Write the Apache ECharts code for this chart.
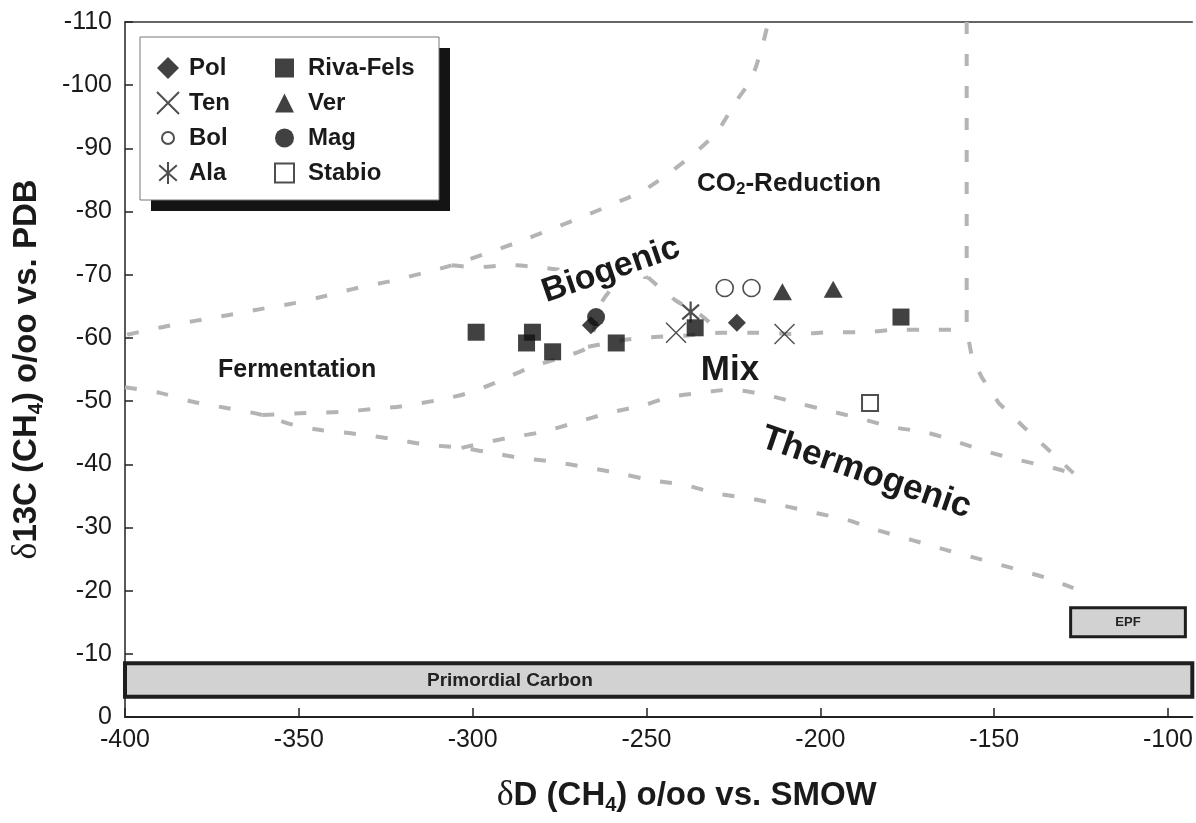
<!DOCTYPE html>
<html><head><meta charset="utf-8">
<script src="https://cdn.jsdelivr.net/npm/echarts@6/dist/echarts.min.js"></script>
<style>html,body{margin:0;padding:0;background:#fff}#c{width:1196px;height:823px}</style>
</head><body><div id="c"></div>
<script>
// ---- axis ranges / ticks ----
const xRange = [-400, -93];
const xStep = 50;
const yRange = [-110, 0];
const yStep = 10;

// ---- series names ----
const seriesNames = ['Pol', 'Ten', 'Bol', 'Ala', 'Riva-Fels', 'Ver', 'Mag', 'Stabio'];
const legendCol1 = ['Pol', 'Ten', 'Bol', 'Ala'];
const legendCol2 = ['Riva-Fels', 'Ver', 'Mag', 'Stabio'];

// ---- data points [dD, d13C] ----
const polData = [[-224, -62.4], [-266, -62.0]];
const tenData = [[-241.5, -60.8], [-210.3, -60.6]];
const bolData = [[-227.5, -67.9], [-219.8, -67.9]];
const alaData = [[-237.3, -64.1]];
const rivaData = [[-299, -60.9], [-284.5, -59.2], [-282.8, -60.9], [-277, -57.8], [-258.7, -59.2], [-236, -61.6], [-176.8, -63.3]];
const verData = [[-210.9, -67.3], [-196.3, -67.7]];
const magData = [[-264.5, -63.3]];
const stabioData = [[-185.7, -49.7]];

// ---- field boundaries (dashed) ----
const boundA = [[-399.4,-60.5],[-389.4,-61.7],[-379.9,-62.7],[-370.5,-63.6],[-360.7,-64.6],[-351.3,-65.5],[-342.7,-66.6],[-333.2,-67.9],[-323.5,-69.0],[-314.0,-70.3],[-306.0,-71.5],[-296.0,-73.4],[-286.8,-75.2],[-277.9,-77.1],[-269.1,-79.0],[-259.6,-81.2],[-251,-83.3],[-243.5,-86.1],[-235.8,-89.4],[-229.5,-92.8],[-224.4,-97.3],[-219.8,-101.1],[-216.6,-106.4],[-215,-110]];
const boundH = [[-306.0,-71.5],[-299.1,-71.2],[-289.1,-71.5],[-279.7,-71.1],[-269.6,-70.4],[-258.2,-70.0],[-249.6,-69.6]];
const boundG = [[-249.6,-69.6],[-241.8,-66.0],[-234.4,-63.6],[-228.7,-60.8]];
const boundB = [[-400,-52.2],[-390.0,-51.3],[-380.5,-49.9],[-370.8,-48.9],[-360.5,-47.8],[-351.3,-46.2],[-343.3,-45.4],[-333.5,-44.8],[-323.2,-44.0],[-313.2,-43.1],[-303.2,-42.6],[-295.4,-41.9],[-286.2,-41.0],[-276.8,-40.4],[-266.2,-39.4],[-257.3,-38.5],[-248.7,-37.5],[-239.0,-36.7],[-229.0,-35.3],[-219.5,-34.5],[-210.3,-33.4],[-201.4,-32.3],[-192.3,-31.2],[-183.7,-29.6],[-173.6,-28.0],[-163.6,-26.4],[-153.6,-24.9],[-145.0,-23.6],[-135.0,-22.0],[-127.2,-20.4]];
const boundC = [[-360.5,-47.8],[-347.9,-48.1],[-337.8,-48.3],[-327.8,-48.8],[-320.3,-49.2],[-309.7,-50.2],[-301.1,-51.3],[-293.1,-53.0],[-283.1,-55.4],[-273.9,-57.0],[-266.8,-58.6],[-264.8,-62.0],[-263.0,-65.5],[-259.6,-68.1],[-256.7,-70.0]];
const boundF = [[-266.8,-58.6],[-256.2,-59.7],[-249.0,-60.1],[-238.1,-60.4],[-228.7,-60.8],[-218.1,-60.8],[-206.6,-60.6],[-197.4,-60.9],[-187.4,-60.9],[-177.9,-61.3],[-167.9,-61.3],[-157.9,-61.3]];
const boundE = [[-157.9,-110],[-157.9,-61.3],[-156.4,-57.0],[-153.6,-53.8],[-148.7,-49.7],[-141.5,-45.9],[-134.4,-42.3],[-127.2,-38.6]];
const boundD = [[-303.2,-42.6],[-289.7,-44.2],[-280.2,-45.1],[-271.1,-46.5],[-261.0,-48.1],[-250.4,-49.4],[-243.8,-50.6],[-234.4,-51.3],[-225.8,-51.8],[-216.0,-51.0],[-206.6,-49.7],[-198.6,-48.6],[-188.8,-47.3],[-179.4,-45.9],[-169.3,-45.0],[-159.9,-43.4],[-151.3,-41.9],[-143.0,-40.7],[-132.9,-39.4],[-127.2,-38.5]];

// ---- boxes ----
const primordialBox = [[-400, -8.5], [-80, -3.2]];
const epfBox = [[-128, -17.3], [-95, -12.7]];

const FONT = '"Liberation Sans", Arial, Helvetica, sans-serif';
const INK = '#1a1a1a';
const dash = { color: '#b4b4b4', width: 4, type: [12, 20] };

function boundary(data, smooth) {
  return { type: 'line', data: data, symbol: 'none', smooth: smooth, lineStyle: dash,
    silent: true, z: 1, emphasis: { disabled: true }, animation: false };
}
function pts(name, data, symbol, size, itemStyle) {
  return { type: 'scatter', name: name, data: data, symbol: symbol, symbolSize: size, symbolKeepAspect: true,
    itemStyle: itemStyle, z: 5, emphasis: { disabled: true }, animation: false };
}

const chart = echarts.init(document.getElementById('c'));
const titleRich = {
  a: { fontSize: 33, fontWeight: 'bold', fontFamily: FONT, color: INK, lineHeight: 38 },
  d: { fontSize: 36, fontFamily: '"Liberation Serif", serif', color: INK, lineHeight: 38 },
  s: { fontSize: 20, fontWeight: 'bold', fontFamily: FONT, color: INK, lineHeight: 20, verticalAlign: 'bottom' }
};
const legendText = { fontSize: 24, fontWeight: 'bold', color: INK, fontFamily: FONT };

const option = {
  animation: false,
  backgroundColor: '#fff',
  grid: { left: 125, right: 0, top: 22, bottom: 106, containLabel: false },
  xAxis: [{
    type: 'value', min: xRange[0], max: xRange[1], interval: xStep, position: 'bottom',
    axisLine: { onZero: false, lineStyle: { color: '#222', width: 2 } },
    axisTick: { inside: true, length: 9, lineStyle: { color: '#222', width: 1.5 } },
    axisLabel: { fontSize: 25, color: INK, fontFamily: FONT, margin: 11, showMaxLabel: false },
    splitLine: { show: false },
    name: '{d|δ}{a|D (CH}{s|4}{a|) o/oo vs. SMOW}', nameLocation: 'middle', nameGap: 60,
    nameTextStyle: { rich: titleRich, padding: [0, 0, 0, 56] }
  }, {
    type: 'value', min: xRange[0], max: xRange[1], position: 'top',
    axisLine: { show: true, onZero: false, lineStyle: { color: '#333', width: 1.5 } },
    axisTick: { show: false }, axisLabel: { show: false }, splitLine: { show: false }
  }],
  yAxis: {
    type: 'value', min: yRange[0], max: yRange[1], interval: yStep, inverse: true,
    axisLine: { show: true, onZero: false, lineStyle: { color: '#222', width: 1.5 } },
    axisTick: { show: true, inside: true, length: 8, lineStyle: { color: '#222', width: 1.5 } },
    axisLabel: { fontSize: 25, color: INK, fontFamily: FONT, margin: 13 },
    splitLine: { show: false },
    name: '{d|δ}{a|13C (CH}{s|4}{a|) o/oo vs. PDB}', nameLocation: 'middle', nameGap: 79, nameRotate: 90,
    nameTextStyle: { rich: titleRich }
  },
  legend: [{
    data: ['Pol', 'Ten', { name: 'Bol', icon: 'path://M0,0M22,22M5,11A6,6,0,1,1,17,11A6,6,0,1,1,5,11Z' }, 'Ala'],
    orient: 'vertical', left: 156, top: 56, padding: 0,
    itemWidth: 22, itemHeight: 22, itemGap: 11, selectedMode: false, z: 10, symbolKeepAspect: true,
    textStyle: Object.assign({ padding: [0, 0, 0, 5] }, legendText)
  }, {
    data: legendCol2, orient: 'vertical', left: 274, top: 56, padding: 0,
    itemWidth: 19, itemHeight: 19, itemGap: 11, selectedMode: false, z: 10, symbolKeepAspect: true,
    textStyle: Object.assign({ padding: [0, 0, 0, 9] }, legendText)
  }],
  graphic: [
    { type: 'rect', z: 5, silent: true, shape: { x: 151, y: 48, width: 299, height: 163 }, style: { fill: '#141414' } },
    { type: 'rect', z: 6, silent: true, shape: { x: 140, y: 37, width: 299, height: 163 }, style: { fill: '#fff', stroke: '#777', lineWidth: 1 } },
    { type: 'text', z: 7, silent: true, x: 697, y: 184,
      style: { text: '{a|CO}{s|2}{a|-Reduction}', align: 'left', verticalAlign: 'middle', textAlign: 'left', textVerticalAlign: 'middle',
        rich: { a: { fontSize: 26, fontWeight: 'bold', fontFamily: FONT, fill: INK, color: INK, lineHeight: 28 },
                s: { fontSize: 17, fontWeight: 'bold', fontFamily: FONT, fill: INK, color: INK, lineHeight: 16, verticalAlign: 'bottom' } } } },
    { type: 'text', z: 7, silent: true, x: 218, y: 370,
      style: { text: 'Fermentation', font: 'bold 25px ' + FONT, fill: INK, align: 'left', verticalAlign: 'middle', textAlign: 'left', textVerticalAlign: 'middle' } },
    { type: 'text', z: 7, silent: true, x: 611, y: 270, rotation: 19 * Math.PI / 180,
      style: { text: 'Biogenic', font: 'bold 34px ' + FONT, fill: INK, align: 'center', verticalAlign: 'middle', textAlign: 'center', textVerticalAlign: 'middle',
        backgroundColor: '#fff', padding: [0, 4] } },
    { type: 'text', z: 7, silent: true, x: 730, y: 370,
      style: { text: 'Mix', font: 'bold 35px ' + FONT, fill: INK, align: 'center', verticalAlign: 'middle', textAlign: 'center', textVerticalAlign: 'middle' } },
    { type: 'text', z: 7, silent: true, x: 866, y: 473, rotation: -19 * Math.PI / 180,
      style: { text: 'Thermogenic', font: 'bold 35px ' + FONT, fill: INK, align: 'center', verticalAlign: 'middle', textAlign: 'center', textVerticalAlign: 'middle' } },
    { type: 'text', z: 7, silent: true, x: 427, y: 681,
      style: { text: 'Primordial Carbon', font: 'bold 19px ' + FONT, fill: '#222', align: 'left', verticalAlign: 'middle', textAlign: 'left', textVerticalAlign: 'middle' } }
  ],
  series: [
    boundary(boundA, 0.3), boundary(boundH, 0.3), boundary(boundG, 0.3), boundary(boundB, 0.3),
    boundary(boundC, 0.3), boundary(boundF, 0.2), boundary(boundE, false), boundary(boundD, 0.3),
    {
      type: 'line', data: [], silent: true, z: 2, animation: false,
      markArea: {
        silent: true,
        data: [
          [{ coord: primordialBox[0], itemStyle: { color: '#d2d2d2', borderColor: '#1e1e1e', borderWidth: 4 } }, { coord: primordialBox[1] }],
          [{ coord: epfBox[0], name: 'EPF', itemStyle: { color: '#d2d2d2', borderColor: '#1e1e1e', borderWidth: 3 },
             label: { show: true, position: 'inside', fontSize: 13, fontWeight: 'bold', color: '#222', fontFamily: FONT } }, { coord: epfBox[1] }]
        ],
        label: { show: false }
      }
    },
    pts('Pol', polData, 'diamond', 18, { color: '#111' }),
    pts('Ten', tenData, 'path://M0,0L20,20M20,0L0,20', 20, { color: 'rgba(0,0,0,0)', borderColor: '#222', borderWidth: 1.4 }),
    pts('Bol', bolData, 'circle', 17, { color: '#fff', borderColor: '#222', borderWidth: 1.6 }),
    pts('Ala', alaData, 'path://M10,0L10,20M2,3L18,17M18,3L2,17', 21, { color: 'rgba(0,0,0,0)', borderColor: '#222', borderWidth: 2.2 }),
    pts('Riva-Fels', rivaData, 'rect', 17, { color: '#111' }),
    pts('Ver', verData, 'triangle', [19, 17], { color: '#111' }),
    pts('Mag', magData, 'circle', 18, { color: '#111' }),
    pts('Stabio', stabioData, 'rect', 16, { color: '#fff', borderColor: '#222', borderWidth: 2 })
  ]
};
chart.setOption(option);
</script>
</body></html>
